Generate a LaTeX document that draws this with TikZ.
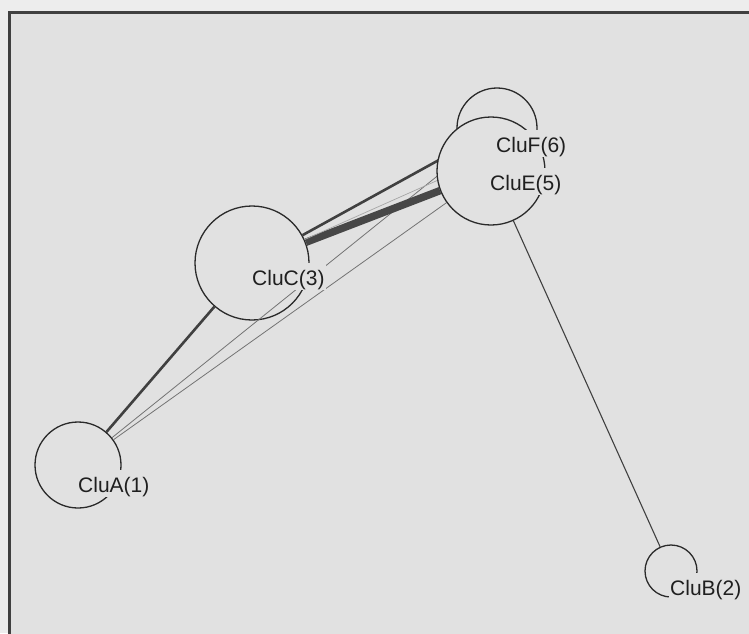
\documentclass[tikz,border=0pt]{standalone}
\usepackage{fontspec}
\setmainfont{Liberation Sans}
\pgfdeclarelayer{back}
\pgfdeclarelayer{links}
\pgfdeclarelayer{front}
\pgfsetlayers{back,main,links,front}
\definecolor{paper}{HTML}{EDEDED}
\definecolor{panel}{HTML}{E1E1E1}
\definecolor{ink}{HTML}{2A2A2A}
\tikzset{
  cluster/.style={circle, draw=ink, line width=1.3pt, fill=panel, inner sep=0pt, minimum size=#1},
  tag/.style={anchor=base west, fill=panel, inner xsep=1pt, inner ysep=0pt,
    text height=22pt, text depth=5pt, font=\fontsize{21}{25}\selectfont, text=black!88},
  heavylink/.style={draw=black!72, line width=7.5pt},
  medlink/.style={draw=black!75, line width=2.6pt},
  thinlink/.style={draw=black!55, line width=0.8pt},
  faintlink/.style={draw=black!35, line width=0.7pt},
  plainlink/.style={draw=black!75, line width=1.1pt},
}
\begin{document}
\begin{tikzpicture}[x=1pt, y=-1pt]
\useasboundingbox (0,0) rectangle (749,633);
\clip (0,0) rectangle (749,633);

% page and panel
\begin{pgfonlayer}{back}
  \fill[paper] (0,0) rectangle (749,633);
  \fill[panel] (9.5,12.5) rectangle (760,650);
  \draw[black!75, line width=2.2pt] (9.5,650) -- (9.5,12.5) -- (760,12.5);
\end{pgfonlayer}

% clusters
\node[cluster=80pt]  (F) at (497,128) {};
\node[cluster=114pt] (C) at (252,263) {};
\node[cluster=86pt]  (A) at (78,465) {};
\node[cluster=52pt]  (B) at (671,571) {};
% E lies over F and over the ends of the links reaching into it
\begin{pgfonlayer}{front}
  \node[cluster=108pt] (E) at (491,171) {};
\end{pgfonlayer}

% links, border to border
\begin{pgfonlayer}{links}
  \draw[medlink]   (A) -- (C);
  \draw[thinlink]  (A) -- (E);
  \draw[thinlink]  (A) -- (F);
  \draw[heavylink] (C) -- (E);
  \draw[medlink]   (C) -- (F);
  \draw[faintlink] (C) -- (E.190);
  \draw[plainlink] (E) -- (B);
\end{pgfonlayer}

% labels
\begin{pgfonlayer}{front}
  \node[tag] (lF) at (495,152) {CluF(6)};
  \node[tag] (lE) at (489,190) {CluE(5)};
  \node[tag] (lC) at (251,285) {CluC(3)};
  \node[tag] (lA) at (77,492)  {CluA(1)};
  \node[tag] (lB) at (669,595) {CluB(2)};
\end{pgfonlayer}
\end{tikzpicture}
\end{document}
